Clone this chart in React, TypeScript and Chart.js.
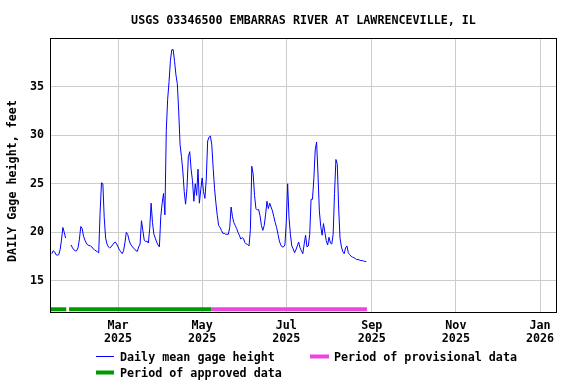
import React, { useEffect, useRef } from "react";
import { Chart, registerables } from "chart.js";

Chart.register(...registerables);

const TITLE = "USGS 03346500 EMBARRAS RIVER AT LAWRENCEVILLE, IL";
const Y_LABEL = "DAILY Gage height, feet";
const LEGEND_LINE = "Daily mean gage height";
const LEGEND_PROVISIONAL = "Period of provisional data";
const LEGEND_APPROVED = "Period of approved data";

const START_DATE = "2025-01-12";
// Daily mean gage height (feet), one value per day from START_DATE (null = missing)
const gageHeight: (number | null)[] = [
  17.8, 18.1, 18.0, 17.7, 17.65, 17.7, 18.2, 19.2, 20.5, 20.0, 19.4,
  null, null, null,
  18.7, 18.4, 18.2, 18.1, 18.1, 18.4, 19.3, 20.6, 20.4, 19.6, 19.2, 18.9, 18.7, 18.65, 18.6, 18.5,
  18.3, 18.2, 18.1, 18.0, 17.9, 22.0, 25.1, 25.0, 21.5, 19.4, 18.8, 18.5, 18.4, 18.5, 18.7, 18.9,
  19.0, 18.8, 18.5, 18.2, 18.0, 17.8, 18.1, 18.9, 20.0, 19.8, 19.2, 18.8, 18.6, 18.4, 18.3, 18.1,
  18.05, 18.5, 18.8, 21.2, 20.2, 19.2, 19.05, 19.1, 18.9, 20.4, 23.0, 21.0, 19.8, 19.4, 19.0, 18.7,
  18.5, 21.6, 23.0, 24.0, 21.8, 30.5, 33.7, 35.5, 37.7, 38.8, 38.8, 37.6, 36.2, 35.3, 32.5, 29.0,
  27.8, 26.3, 24.2, 22.9, 24.5, 27.8, 28.3, 26.5, 25.3, 23.2, 25.0, 23.8, 26.5, 23.0, 24.4, 25.6,
  24.2, 23.5, 25.5, 29.4, 29.8, 29.9, 29.0, 26.6, 24.5, 23.0, 21.7, 20.7, 20.5, 20.2, 19.9, 19.9,
  19.8, 19.8, 19.8, 20.5, 22.6, 21.6, 21.0, 20.7, 20.4, 20.0, 19.7, 19.3, 19.45, 19.35, 18.95, 18.8,
  18.75, 18.6, 20.3, 26.8, 26.0, 23.8, 22.45, 22.3, 22.35, 21.7, 20.7, 20.2, 20.7, 21.8, 23.2, 22.45,
  23.0, 22.6, 22.2, 21.6, 21.0, 20.5, 19.8, 19.1, 18.7, 18.5, 18.5, 18.7, 21.0, 25.0, 21.5, 19.8,
  18.6, 18.3, 17.9, 18.2, 18.6, 19.0, 18.4, 18.1, 17.8, 18.8, 19.7, 18.5, 18.6, 19.8, 23.4, 23.4,
  25.5, 28.5, 29.3, 26.0, 22.2, 20.6, 19.7, 20.9, 20.0, 19.15, 18.7, 19.5, 18.9, 18.8, 19.8, 24.0,
  27.5, 27.0, 22.5, 19.4, 18.5, 18.0, 17.8, 18.4, 18.6, 17.9, 17.7, 17.55, 17.45, 17.4, 17.3, 17.2,
  17.2, 17.15, 17.1, 17.1, 17.05, 17.0, 17.0,
];

// Data-quality periods [first day, last day]
const approvedPeriods: [string, string][] = [
  ["2025-01-11", "2025-01-22"],
  ["2025-01-25", "2025-05-07"],
];
const provisionalPeriods: [string, string][] = [["2025-05-08", "2025-08-28"]];

const xTickDates = ["2025-03-01", "2025-05-01", "2025-07-01", "2025-09-01", "2025-11-01", "2026-01-01"];
const xTickMonths = ["Mar", "May", "Jul", "Sep", "Nov", "Jan"];
const xTickYears = ["2025", "2025", "2025", "2025", "2025", "2026"];
const yTicks = [15, 20, 25, 30, 35];

const X_MIN = "2025-01-11";
const X_MAX = "2026-01-12";
const Y_MIN = 11.8;
const Y_MAX = 39.9;
const PERIOD_LEVEL = 12.08;

const FONT = "'DejaVu Sans Mono', monospace";
const FONT_SIZE = 11.7;
const BLUE = "#0000ff";
const GREEN = "#009a00";
const PINK = "#ef45e0";

const toDay = (s: string) => {
  const [y, m, d] = s.split("-").map(Number);
  return (Date.UTC(y, m - 1, d) - Date.UTC(2025, 0, 1)) / 86400000;
};

const periodDataset = (p: [string, string], color: string) => ({
  type: "line" as const,
  data: [
    { x: toDay(p[0]) - 0.5, y: PERIOD_LEVEL },
    { x: toDay(p[1]) + 0.5, y: PERIOD_LEVEL },
  ],
  borderColor: color,
  borderWidth: 4,
  borderCapStyle: "butt" as const,
  pointRadius: 0,
  clip: 0,
  tension: 0,
});

const decorPlugin = {
  id: "decor",
  afterDraw(chart: any) {
    const { ctx, chartArea } = chart;
    ctx.save();
    // plot frame
    ctx.strokeStyle = "#000";
    ctx.lineWidth = 1;
    ctx.strokeRect(
      Math.round(chartArea.left) - 0.5,
      Math.round(chartArea.top) - 0.5,
      Math.round(chartArea.right - chartArea.left) + 1,
      Math.round(chartArea.bottom - chartArea.top) + 1
    );
    ctx.fillStyle = "#000";
    ctx.font = `bold ${FONT_SIZE}px ${FONT}`;
    ctx.textBaseline = "alphabetic";
    // title
    ctx.textAlign = "center";
    ctx.fillText(TITLE, (chartArea.left + chartArea.right) / 2, 24);
    // y label
    ctx.save();
    ctx.translate(16, 181);
    ctx.rotate(-Math.PI / 2);
    ctx.textAlign = "center";
    ctx.fillText(Y_LABEL, 0, 0);
    ctx.restore();
    // legend
    ctx.textAlign = "left";
    ctx.strokeStyle = BLUE;
    ctx.lineWidth = 1;
    ctx.beginPath();
    ctx.moveTo(96, 356.5);
    ctx.lineTo(114, 356.5);
    ctx.stroke();
    ctx.fillText(LEGEND_LINE, 120, 361);
    ctx.fillStyle = PINK;
    ctx.fillRect(310, 354.5, 19, 4);
    ctx.fillStyle = "#000";
    ctx.fillText(LEGEND_PROVISIONAL, 334, 361);
    ctx.fillStyle = GREEN;
    ctx.fillRect(96, 370.5, 18, 4);
    ctx.fillStyle = "#000";
    ctx.fillText(LEGEND_APPROVED, 120, 377);
    ctx.restore();
  },
};

export default function App() {
  const canvasRef = useRef<HTMLCanvasElement | null>(null);

  useEffect(() => {
    const canvas = canvasRef.current;
    if (!canvas) return;
    const startDay = toDay(START_DATE);
    const chart = new Chart(canvas, {
      type: "line",
      data: {
        datasets: [
          ...approvedPeriods.map((p) => periodDataset(p, GREEN)),
          ...provisionalPeriods.map((p) => periodDataset(p, PINK)),
          {
            type: "line",
            data: gageHeight.map((v, i) => ({ x: startDay + i, y: v })),
            borderColor: BLUE,
            borderWidth: 1,
            pointRadius: 0,
            tension: 0,
            spanGaps: false,
          },
        ] as any,
      },
      options: {
        responsive: false,
        animation: false,
        events: [],
        layout: { padding: { left: 0, top: 39, right: 20, bottom: 0 } },
        plugins: { legend: { display: false }, tooltip: { enabled: false }, title: { display: false } },
        scales: {
          x: {
            type: "linear",
            min: toDay(X_MIN) + 0.4,
            max: toDay(X_MAX) + 0.6,
            afterBuildTicks: (scale: any) => {
              scale.ticks = xTickDates.map((d) => ({ value: toDay(d) }));
            },
            afterFit: (scale: any) => {
              scale.height = 72;
            },
            grid: { color: "#cccccc", lineWidth: 1, drawTicks: false },
            border: { display: false },
            ticks: {
              autoSkip: false,
              maxRotation: 0,
              padding: 7,
              color: "#000",
              font: { family: FONT, size: FONT_SIZE, weight: "bold", lineHeight: 1.154 },
              callback: (_v: any, i: number) => [xTickMonths[i], xTickYears[i]],
            },
          },
          y: {
            type: "linear",
            min: Y_MIN,
            max: Y_MAX,
            afterBuildTicks: (scale: any) => {
              scale.ticks = yTicks.map((v) => ({ value: v }));
            },
            afterFit: (scale: any) => {
              scale.width = 51;
            },
            grid: { color: "#cccccc", lineWidth: 1, drawTicks: false },
            border: { display: false },
            ticks: {
              padding: 7,
              color: "#000",
              font: { family: FONT, size: FONT_SIZE, weight: "bold" },
              callback: (v: any) => String(v),
            },
          },
        },
      } as any,
      plugins: [decorPlugin],
    });
    return () => chart.destroy();
  }, []);

  return (
    <div style={{ position: "fixed", left: 0, top: 0, width: 576, height: 384, background: "#fff" }}>
      <canvas ref={canvasRef} width={576} height={384} style={{ width: 576, height: 384, display: "block" }} />
    </div>
  );
}
